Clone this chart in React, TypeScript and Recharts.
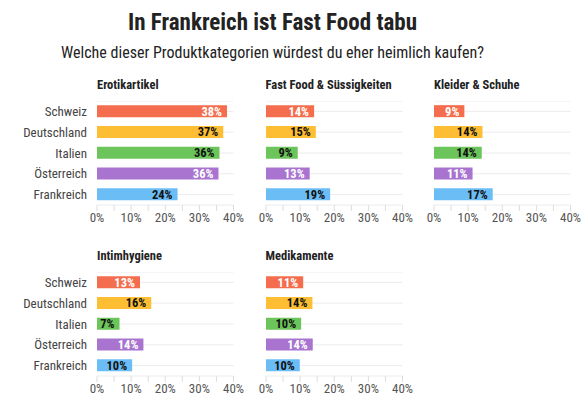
import React from 'react';
import { BarChart, Bar, XAxis, YAxis, CartesianGrid, Cell, LabelList } from 'recharts';

const categories = ['Schweiz', 'Deutschland', 'Italien', 'Österreich', 'Frankreich'];
const erotikartikel = [38.1, 37.0, 35.9, 35.6, 23.6];
const fastFood = [14.1, 14.6, 9.3, 12.8, 18.8];
const kleider = [8.9, 14.2, 14.0, 11.3, 17.2];
const intimhygiene = [12.6, 15.9, 6.6, 13.6, 10.3];
const medikamente = [10.9, 13.6, 10.3, 13.7, 9.9];
const panelTitles = ['Erotikartikel', 'Fast Food & Süssigkeiten', 'Kleider & Schuhe', 'Intimhygiene', 'Medikamente'];
const xTicks = [0, 5, 10, 15, 20, 25, 30, 35, 40];
const barColors = ['#F46D4E', '#FDBE33', '#6CC55A', '#A874CF', '#6BBDF6'];
const labelColors = ['#ffffff', '#111111', '#111111', '#ffffff', '#111111'];

const title = 'In Frankreich ist Fast Food tabu';
const subtitle = 'Welche dieser Produktkategorien würdest du eher heimlich kaufen?';

const FONT = 'Roboto, "Roboto Condensed", sans-serif';
const PLOT_W = 136.5;
const PLOT_H = 104;
const AXIS_H = 26;
const RIGHT = 14;
const LEFT_PAD = 14;

const panels = [
  { values: erotikartikel, plotLeft: 97, plotTop: 101.3, showY: true },
  { values: fastFood, plotLeft: 265.5, plotTop: 101.3, showY: false },
  { values: kleider, plotLeft: 434, plotTop: 101.3, showY: false },
  { values: intimhygiene, plotLeft: 97, plotTop: 272.3, showY: true },
  { values: medikamente, plotLeft: 265.5, plotTop: 272.3, showY: false },
];

const ValueLabel = (props: any) => {
  const { x, y, width, height, value, index } = props;
  const i = typeof index === 'number' ? index : 0;
  return (
    <text
      x={Number(x) + Number(width) - 5}
      y={Number(y) + Number(height) / 2}
      textAnchor="end"
      dominantBaseline="central"
      fontWeight="bold"
      fontSize={12.5}
      fill={labelColors[i]}
    >
      {`${Math.round(Number(value))}%`}
    </text>
  );
};

function Panel({ values, plotLeft, plotTop, showY }: any) {
  const yw = showY ? 97 : 0;
  const lm = showY ? 0 : LEFT_PAD;
  const data = categories.map((c, i) => ({ country: c, value: values[i] }));
  const width = lm + yw + PLOT_W + RIGHT;
  const height = PLOT_H + AXIS_H;
  return (
    <div style={{ position: 'absolute', left: plotLeft - yw - lm, top: plotTop, width, height }}>
      <BarChart
        width={width}
        height={height}
        data={data}
        layout="vertical"
        margin={{ top: 0, right: RIGHT, bottom: 0, left: lm }}
        barCategoryGap="20%"
      >
        <CartesianGrid horizontal={true} vertical={false} stroke="#ececec" strokeWidth={1} />
        <XAxis
          type="number"
          domain={[0, 40]}
          ticks={xTicks}
          interval={0}
          height={AXIS_H}
          axisLine={false}
          tickLine={{ stroke: '#dddddd' }}
          tickSize={6}
          tickMargin={2}
          tick={{ fill: '#555555', fontSize: 13 }}
          tickFormatter={(v: number) => (v % 10 === 0 ? `${v}%` : '')}
        />
        <YAxis
          type="category"
          dataKey="country"
          width={yw}
          hide={!showY}
          interval={0}
          axisLine={false}
          tickLine={false}
          tickSize={0}
          tickMargin={10}
          tick={{ fill: '#444444', fontSize: 13 }}
        />
        <Bar dataKey="value" isAnimationActive={false}>
          {data.map((d, i) => (
            <Cell key={d.country} fill={barColors[i]} />
          ))}
          <LabelList dataKey="value" content={<ValueLabel />} />
        </Bar>
      </BarChart>
    </div>
  );
}

export default function App() {
  return (
    <div
      style={{
        position: 'absolute',
        left: 0,
        top: 0,
        width: 582,
        height: 415,
        background: '#ffffff',
        fontFamily: FONT,
        fontStretch: '75%',
        overflow: 'hidden',
      }}
    >
      <svg width={582} height={415} style={{ position: 'absolute', left: 0, top: 0 }}>
        <text x={272.5} y={29.5} textAnchor="middle" fontSize={23} fontWeight="bold" fill="#222222">
          {title}
        </text>
        <text x={272.5} y={57.5} textAnchor="middle" fontSize={16} fill="#222222">
          {subtitle}
        </text>
        {panels.map((p, i) => (
          <text key={panelTitles[i]} x={p.plotLeft} y={p.plotTop - 12} fontSize={12.5} fontWeight="bold" fill="#222222">
            {panelTitles[i]}
          </text>
        ))}
      </svg>
      {panels.map((p, i) => (
        <Panel key={panelTitles[i]} {...p} />
      ))}
    </div>
  );
}
